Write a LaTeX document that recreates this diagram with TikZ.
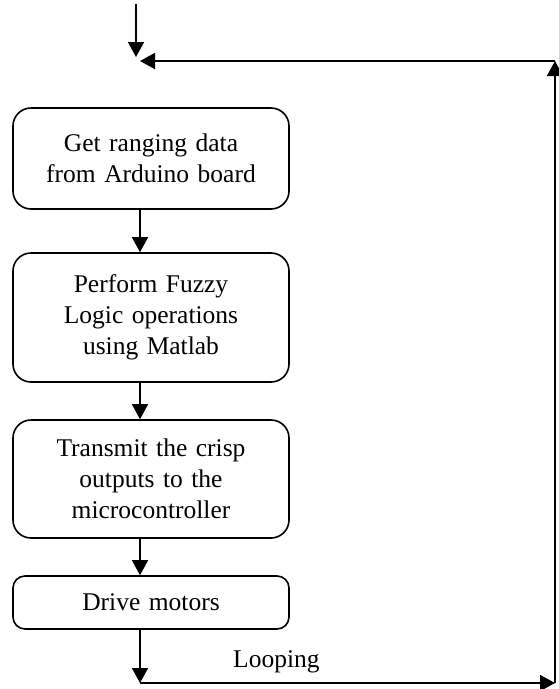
\documentclass[tikz,border=0pt]{standalone}
\usepackage{fontspec}
\setmainfont{Liberation Serif}
\usetikzlibrary{arrows.meta}

\tikzset{
  stage/.style={draw, line width=1.6pt, rounded corners=18pt, minimum width=276pt,
    text width=260pt, align=center, inner sep=0pt,
    font=\fontsize{25.5}{31}\selectfont},
  flow/.style={line width=1.6pt, -{Triangle[length=15pt,width=16pt]}}
}

\begin{document}
\begin{tikzpicture}[x=1pt,y=-1pt]
\useasboundingbox (0,0) rectangle (558,689);

\node [stage, minimum height=101pt] (get) at (151,158.5) {Get ranging data\\from Arduino board};
\node [stage, minimum height=129pt] (fuzzy) at (151,317.5) {Perform Fuzzy\\Logic operations\\using Matlab};
\node [stage, minimum height=118pt] (send) at (151,479) {Transmit the crisp\\outputs to the\\microcontroller};
\node [stage, minimum height=53pt, rounded corners=12pt] (drive) at (151,602.5) {Drive motors};

\coordinate (spine) at (140,0);
\coordinate (start) at (136,4);
\coordinate (entry) at (136,57);
\coordinate (back) at (140,61);
\coordinate (bottom) at (140,683);
\coordinate (corner) at (555,683);
\coordinate (top) at (555,61);

\draw [flow] (start) -- (entry);
\draw [flow] (get.south -| spine) -- (fuzzy.north -| spine);
\draw [flow] (fuzzy.south -| spine) -- (send.north -| spine);
\draw [flow] (send.south -| spine) -- (drive.north -| spine);
\draw [flow] (drive.south -| spine) -- (bottom);
\draw [flow] (bottom) -- (corner);
\draw [flow] (corner) -- (top);
\draw [flow] (top) -- (back);

\node [anchor=base west, inner sep=0pt, font=\fontsize{25.5}{31}\selectfont] (loop) at (233,667) {Looping};
\end{tikzpicture}
\end{document}
